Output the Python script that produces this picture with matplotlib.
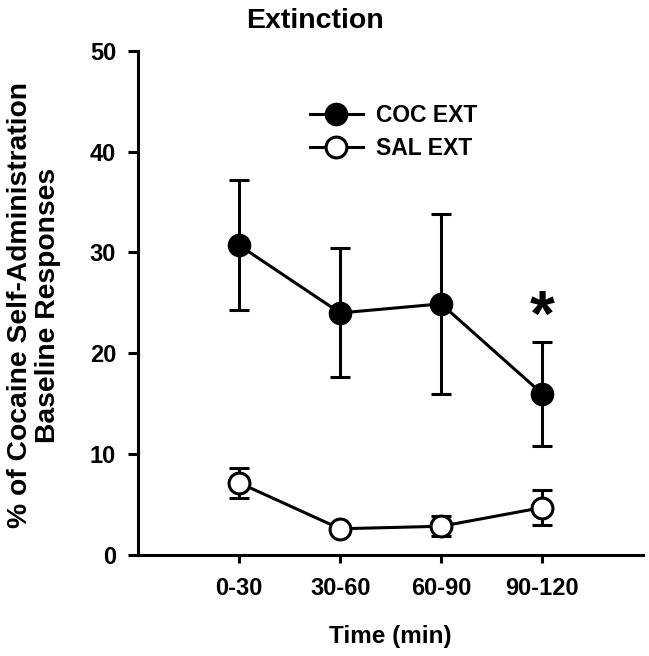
import matplotlib
matplotlib.use("Agg")
import matplotlib.pyplot as plt

plt.rcParams['font.family'] = ['Liberation Sans', 'DejaVu Sans']
plt.rcParams['font.weight'] = 'bold'

categories = ["0-30", "30-60", "60-90", "90-120"]
coc_mean = [30.7, 24.0, 24.9, 16.0]
coc_sem = [6.45, 6.4, 8.9, 5.15]
sal_mean = [7.15, 2.6, 2.85, 4.7]
sal_sem = [1.5, 0.4, 1.0, 1.75]
yticks = [0, 10, 20, 30, 40, 50]
sig_index = 3
sig_y = 23.4

W, H = 649, 656
fig = plt.figure(figsize=(W / 100, H / 100), dpi=100)
ax = fig.add_axes([138.3 / W, 101 / H, (643 - 138.3) / W, (555 - 50.7) / H])

x = list(range(1, len(categories) + 1))
lw = 2.2

ax.errorbar(x, coc_mean, yerr=coc_sem, fmt='none', ecolor='black',
            elinewidth=lw, capsize=7.4, capthick=lw, zorder=2)
ax.errorbar(x, sal_mean, yerr=sal_sem, fmt='none', ecolor='black',
            elinewidth=lw, capsize=7.4, capthick=lw, zorder=2)
ax.plot(x, coc_mean, '-o', color='black', lw=lw, markersize=15,
        markerfacecolor='black', markeredgecolor='black', markeredgewidth=2,
        label='COC EXT', zorder=4)
ax.plot(x, sal_mean, '-o', color='black', lw=lw, markersize=15,
        markerfacecolor='white', markeredgecolor='black', markeredgewidth=2.2,
        label='SAL EXT', zorder=4)

ax.text(x[sig_index], sig_y, '*', ha='center', va='center', fontsize=46,
        fontweight='bold')

ax.set_xlim(0, 5)
ax.set_ylim(0, 50)
ax.set_xticks(x)
ax.set_xticklabels(categories)
ax.set_yticks(yticks)

for s in ['top', 'right']:
    ax.spines[s].set_visible(False)
for s in ['left', 'bottom']:
    ax.spines[s].set_linewidth(lw)

ax.tick_params(axis='y', direction='out', length=7, width=lw, pad=9,
               labelsize=17)
ax.tick_params(axis='x', direction='out', length=6, width=lw, pad=10,
               labelsize=17)
for lab in ax.get_xticklabels() + ax.get_yticklabels():
    lab.set_fontweight('bold')

ax.set_xlabel('Time (min)', fontsize=17.5, fontweight='bold', labelpad=18)

fig.text(34 / W, 1 - 305 / H,
         '% of Cocaine Self-Administration\nBaseline Responses',
         rotation=90, ha='center', va='center', fontsize=20.3,
         fontweight='bold', linespacing=1.1, multialignment='center')

fig.text(315 / W, 1 - 28 / H, 'Extinction', ha='center', va='baseline',
         fontsize=20.5, fontweight='bold')

leg = ax.legend(loc='center left', bbox_to_anchor=(310 / W, 1 - 132 / H),
                bbox_transform=fig.transFigure, frameon=False,
                handlelength=2.3, handletextpad=0.6,
                borderpad=0, borderaxespad=0, labelspacing=0.4,
                prop={'weight': 'bold', 'size': 16.5})

fig.savefig('out.png', dpi=100)
